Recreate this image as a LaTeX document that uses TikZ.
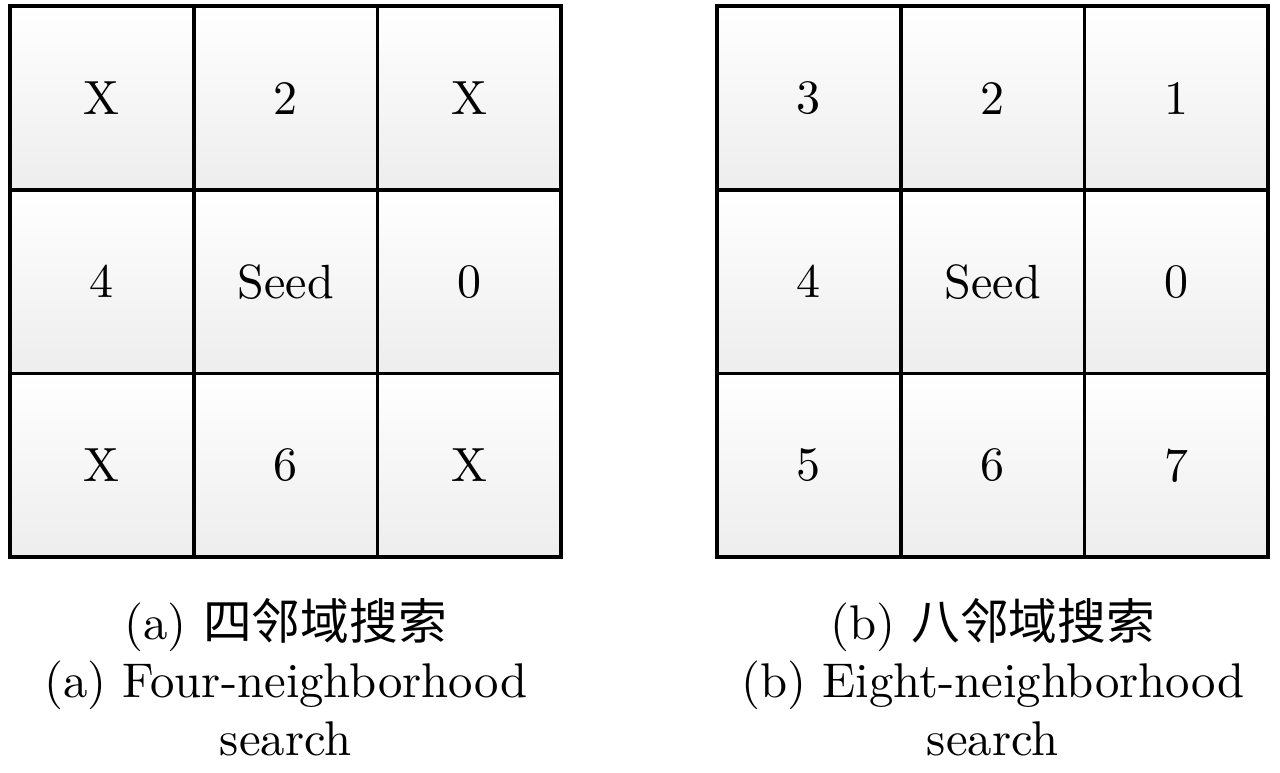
\documentclass[tikz,border=0pt]{standalone}
\usepackage{fontspec}
\newfontfamily\cjk{Noto Sans CJK SC}
\usetikzlibrary{positioning}

\tikzset{
  cell/.style={draw, line width=0.8pt, minimum size=38.3pt, inner sep=0pt,
               top color=white, bottom color=black!7},
  subcap/.style={align=center, inner sep=2pt, font=\fontsize{10.15}{12.1}\selectfont}
}

\begin{document}
\begin{tikzpicture}[x=0.2083pt, y=-0.2083pt]
\useasboundingbox (0,0) rectangle (1280,772);
% four-neighbourhood grid
\foreach \c/\r/\lab in {0/0/X, 1/0/2, 2/0/X,
                        0/1/4, 1/1/Seed, 2/1/0,
                        0/2/X, 1/2/6, 2/2/X}
  \node[cell] (four-\c-\r) at (102+183.7*\c, 98+183.7*\r) {\lab};
% eight-neighbourhood grid
\foreach \c/\r/\lab in {0/0/3, 1/0/2, 2/0/1,
                        0/1/4, 1/1/Seed, 2/1/0,
                        0/2/5, 1/2/6, 2/2/7}
  \node[cell] (eight-\c-\r) at (809+183.7*\c, 98+183.7*\r) {\lab};

\node[subcap, below=6pt of four-1-2]
  (capfour) {(a) {\cjk 四邻域搜索}\\(a) Four-neighborhood\\search};
\node[subcap, below=6pt of eight-1-2]
  (capeight) {(b) {\cjk 八邻域搜索}\\(b) Eight-neighborhood\\search};
\end{tikzpicture}
\end{document}
